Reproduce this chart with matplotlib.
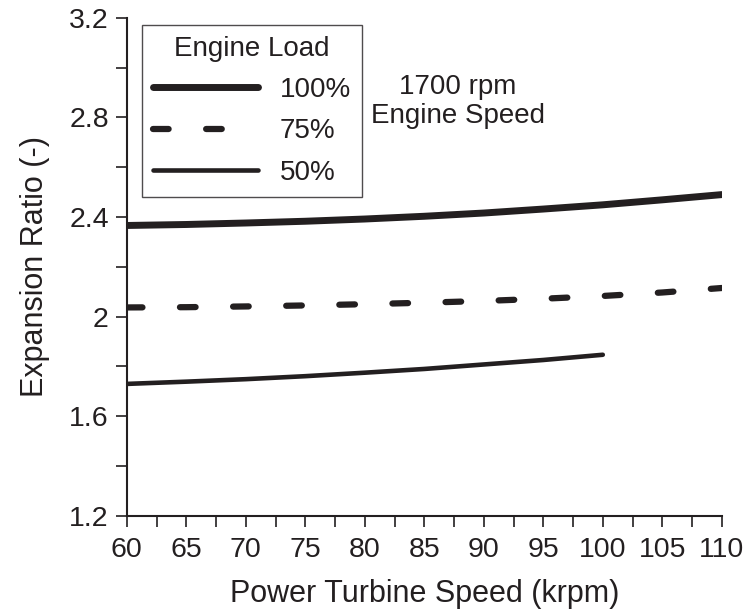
import matplotlib
matplotlib.use("Agg")
import matplotlib.pyplot as plt
from matplotlib.ticker import MultipleLocator

plt.rcParams['font.family'] = ['Liberation Sans', 'DejaVu Sans']

# turbine speed (krpm)
speed = [60, 65, 70, 75, 80, 85, 90, 95, 100, 105, 110]
speed_50 = [60, 65, 70, 75, 80, 85, 90, 95, 100]

# expansion ratio for each engine load
ratio_100 = [2.366, 2.370, 2.376, 2.383, 2.392, 2.403, 2.416, 2.432, 2.449, 2.469, 2.490]
ratio_75 = [2.037, 2.038, 2.041, 2.045, 2.050, 2.056, 2.063, 2.072, 2.083, 2.097, 2.115]
ratio_50 = [1.730, 1.739, 1.749, 1.761, 1.775, 1.790, 1.808, 1.826, 1.847]

ink = '#231f20'

fig = plt.figure(figsize=(7.55, 6.12), dpi=100)
ax = fig.add_axes([0.168, 0.157, 0.788, 0.814])

ax.plot(speed, ratio_100, color=ink, lw=5, solid_capstyle='round', label='100%')
ax.plot(speed, ratio_75, color=ink, lw=4.5, dashes=(2.5, 6.0), dash_capstyle='round', label='75%')
ax.plot(speed_50, ratio_50, color=ink, lw=3.3, solid_capstyle='round', label='50%')

ax.set_xlim(60, 110)
ax.set_ylim(1.2, 3.2)
ax.xaxis.set_major_locator(MultipleLocator(5))
ax.xaxis.set_minor_locator(MultipleLocator(2.5))
ax.yaxis.set_major_locator(MultipleLocator(0.4))
ax.yaxis.set_minor_locator(MultipleLocator(0.2))
ax.yaxis.set_major_formatter(plt.FuncFormatter(lambda v, p: f"{v:g}"))

for s in ['top', 'right']:
    ax.spines[s].set_visible(False)
for s in ['left', 'bottom']:
    ax.spines[s].set_linewidth(1.5)
    ax.spines[s].set_color(ink)
ax.tick_params(which='both', direction='out', length=8, width=1.2, color=ink,
               labelsize=20.5, labelcolor=ink)
ax.tick_params(axis='x', pad=7)
ax.tick_params(axis='y', pad=5)

ax.set_xlabel('Power Turbine Speed (krpm)', fontsize=22, color=ink, labelpad=12)
ax.set_ylabel('Expansion Ratio (-)', fontsize=22, color=ink, labelpad=14)

leg = ax.legend(title='Engine Load', loc='upper left', bbox_to_anchor=(0.025, 0.986),
                borderaxespad=0, fontsize=20, title_fontsize=20, handlelength=3.8,
                frameon=True, fancybox=False, edgecolor=ink, borderpad=0.4,
                labelspacing=0.55, handletextpad=0.78)
leg.get_frame().set_linewidth(1)
for t in leg.get_texts():
    t.set_color(ink)
leg.get_title().set_color(ink)

ax.text(87.8, 2.863, '1700 rpm\nEngine Speed', fontsize=20,
        color=ink, ha='center', va='center', linespacing=1.15)

fig.savefig('out.png', dpi=100)
